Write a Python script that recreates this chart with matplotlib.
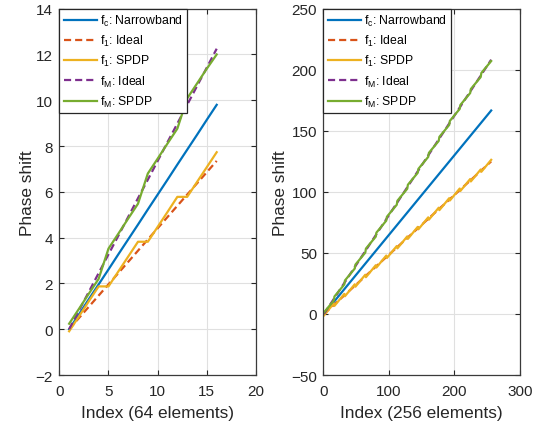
import matplotlib
matplotlib.use("Agg")
import matplotlib.pyplot as plt

plt.rcParams['font.family'] = ['Liberation Sans', 'DejaVu Sans']
plt.rcParams['mathtext.fontset'] = 'custom'
plt.rcParams['mathtext.rm'] = 'Liberation Sans'
plt.rcParams['mathtext.it'] = 'Liberation Sans'

# ---- 64-element array (16 subarray ports) ----
idx_64 = list(range(1, 17))
fc_64 = [0.00, 0.65, 1.31, 1.96, 2.61, 3.27, 3.92, 4.57, 5.23, 5.88, 6.53, 7.19, 7.84, 8.49, 9.15, 9.80]
f1_ideal_64 = [0.00, 0.49, 0.98, 1.47, 1.96, 2.45, 2.94, 3.43, 3.92, 4.41, 4.90, 5.39, 5.88, 6.37, 6.86, 7.35]
f1_spdp_64 = [-0.09, 0.56, 1.22, 1.87, 1.87, 2.52, 3.17, 3.82, 3.82, 4.47, 5.12, 5.78, 5.78, 6.43, 7.08, 7.73]
fM_ideal_64 = [0.00, 0.82, 1.63, 2.45, 3.27, 4.08, 4.90, 5.72, 6.53, 7.35, 8.17, 8.98, 9.80, 10.62, 11.43, 12.25]
fM_spdp_64 = [0.24, 0.89, 1.55, 2.20, 3.52, 4.17, 4.83, 5.48, 6.80, 7.45, 8.11, 8.76, 10.08, 10.73, 11.38, 12.00]

# ---- 256-element array (subarrays of 16, breakpoints at subarray edges) ----
idx_256_ends = [1, 256]
fc_256 = [0.0, 166.6]
f1_ideal_256 = [0.0, 124.9]
fM_ideal_256 = [0.0, 208.2]
idx_256_brk = [1, 16, 17, 32, 33, 48, 49, 64, 65, 80, 81, 96, 97, 112, 113, 128,
               129, 144, 145, 160, 161, 176, 177, 192, 193, 208, 209, 224, 225, 240, 241, 256]
f1_spdp_256 = [-1.2, 8.6, 6.6, 16.4, 14.5, 24.3, 22.3, 32.1, 30.1, 39.9, 38.0, 47.8,
               45.8, 55.6, 53.7, 63.5, 61.5, 71.3, 69.3, 79.1, 77.2, 87.0, 85.0, 94.8,
               92.9, 102.7, 100.7, 110.5, 108.5, 118.3, 116.4, 126.2]
fM_spdp_256 = [1.2, 11.0, 14.3, 24.1, 27.4, 37.2, 40.4, 50.2, 53.5, 63.3, 66.6, 76.4,
               79.6, 89.4, 92.7, 102.5, 105.8, 115.6, 118.8, 128.6, 131.9, 141.7, 145.0, 154.8,
               158.1, 167.9, 171.1, 180.9, 184.2, 194.0, 197.3, 207.1]

labels = ['f$_\\mathrm{c}$: Narrowband', 'f$_\\mathrm{1}$: Ideal', 'f$_\\mathrm{1}$: SPDP',
          'f$_\\mathrm{M}$: Ideal', 'f$_\\mathrm{M}$: SPDP']
c_blue, c_orange, c_yellow, c_purple, c_green = '#0072BD', '#D95319', '#EDB120', '#7E2F8E', '#77AC30'
axis_col = '#262626'
lw = 1.6
dash = (3.2, 1.8)

fig = plt.figure(figsize=(5.45, 4.31), dpi=100)
ax1 = fig.add_axes([0.1088, 0.1276, 0.361, 0.850])
ax2 = fig.add_axes([0.5932, 0.1276, 0.361, 0.850])


def style(ax, ylabel_x):
    ax.grid(True, color='#e0e0e0', linewidth=0.8)
    ax.set_axisbelow(True)
    ax.tick_params(direction='in', top=True, right=True, length=3.5, width=0.8,
                   colors=axis_col, labelsize=11, labelcolor=axis_col)
    ax.tick_params(axis='x', pad=6.5)
    ax.tick_params(axis='y', pad=4.5)
    for s in ax.spines.values():
        s.set_color('#3a3a3a')
        s.set_linewidth(0.9)
    ax.xaxis.set_label_coords(0.5, -0.082)
    ax.yaxis.set_label_coords(ylabel_x, 0.5)
    leg = ax.legend(loc='upper left', fontsize=8.8, handlelength=2.7, handletextpad=0.3,
                    borderaxespad=0.0, labelspacing=0.42, borderpad=0.35, fancybox=False,
                    framealpha=1.0, edgecolor='#262626')
    leg.get_frame().set_linewidth(0.9)


ax1.plot(idx_64, fc_64, color=c_blue, lw=lw, label=labels[0])
ax1.plot(idx_64, f1_ideal_64, color=c_orange, lw=lw, dashes=dash, label=labels[1])
ax1.plot(idx_64, f1_spdp_64, color=c_yellow, lw=lw, label=labels[2])
ax1.plot(idx_64, fM_ideal_64, color=c_purple, lw=lw, dashes=dash, label=labels[3])
ax1.plot(idx_64, fM_spdp_64, color=c_green, lw=lw, label=labels[4])
ax1.set_xlim(0, 20)
ax1.set_ylim(-2, 14)
ax1.set_xticks([0, 5, 10, 15, 20])
ax1.set_yticks(range(-2, 15, 2))
ax1.set_xlabel('Index (64 elements)', fontsize=12.4, color=axis_col)
ax1.set_ylabel('Phase shift', fontsize=12.4, color=axis_col)
style(ax1, -0.125)

ax2.plot(idx_256_ends, fc_256, color=c_blue, lw=lw, label=labels[0])
ax2.plot(idx_256_ends, f1_ideal_256, color=c_orange, lw=lw, dashes=dash, label=labels[1])
ax2.plot(idx_256_brk, f1_spdp_256, color=c_yellow, lw=lw, label=labels[2])
ax2.plot(idx_256_ends, fM_ideal_256, color=c_purple, lw=lw, dashes=dash, label=labels[3])
ax2.plot(idx_256_brk, fM_spdp_256, color=c_green, lw=lw, label=labels[4])
ax2.set_xlim(0, 300)
ax2.set_ylim(-50, 250)
ax2.set_xticks([0, 100, 200, 300])
ax2.set_yticks(range(-50, 251, 50))
ax2.set_xlabel('Index (256 elements)', fontsize=12.4, color=axis_col)
ax2.set_ylabel('Phase shift', fontsize=12.4, color=axis_col)
style(ax2, -0.18)

fig.savefig('out.png', dpi=100)
